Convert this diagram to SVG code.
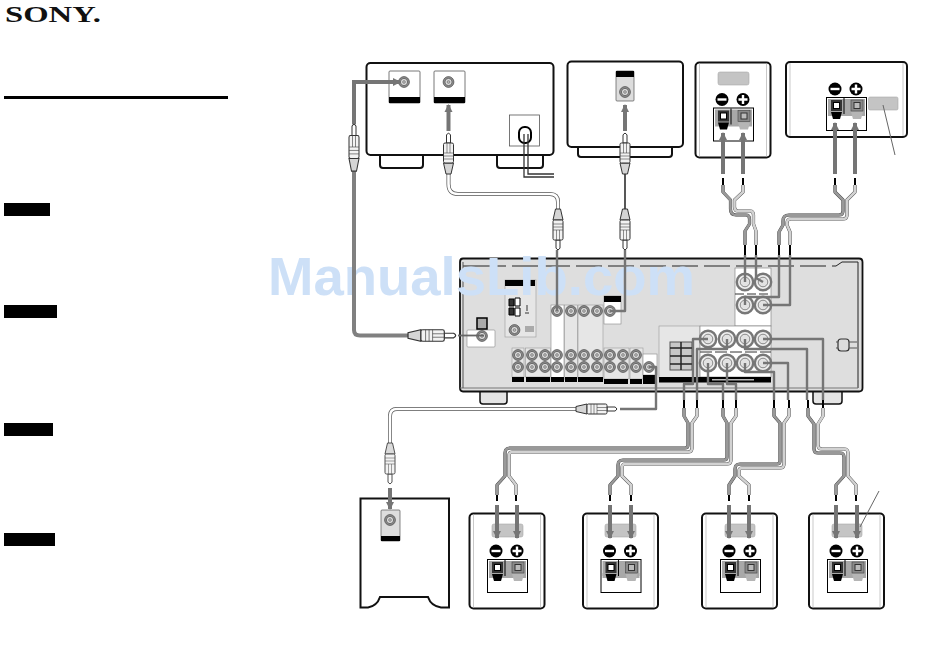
<svg xmlns="http://www.w3.org/2000/svg" xmlns:xlink="http://www.w3.org/1999/xlink" width="950" height="660" viewBox="0 0 950 660">
<style>
.box{fill:#fff;stroke:#111;stroke-width:2}
.thin{fill:#fff;stroke:#555;stroke-width:.8}
.blk{fill:#000}
.lab{fill:#c4c4c4;stroke:#aaa;stroke-width:.6}
.pnl{fill:#e6e6e6;stroke:#999;stroke-width:.6}
.wht{fill:#fff;stroke:#888;stroke-width:.6}
.arr{fill:none;stroke:#757575;stroke-width:4;marker-end:url(#ah)}
.gw{fill:none;stroke:#757575;stroke-width:2.4;stroke-linejoin:round}
.bw{fill:none;stroke:#111;stroke-width:1.4}
.tip{fill:none;stroke:#000;stroke-width:2}
.oc{fill:none;stroke:#333;stroke-width:3.2;stroke-linejoin:round}
.il{fill:none;stroke:#d2d2d2;stroke-width:2.6;stroke-linejoin:round}
.id{fill:none;stroke:#999;stroke-width:2.6;stroke-linejoin:round}
.co{fill:none;stroke:#555;stroke-width:4;stroke-linejoin:round}
.ci{fill:none;stroke:#fff;stroke-width:2.6;stroke-linejoin:round}
.cg{fill:none;stroke:#808080;stroke-width:4;stroke-linejoin:round}
</style>
<defs>
<marker id="ah" markerUnits="userSpaceOnUse" markerWidth="10" markerHeight="10" refX="7" refY="5" orient="auto"><path d="M0,1 L8,5 L0,9 Z" fill="#757575"/></marker>
<g id="j"><circle r="5.4" fill="#8f8f8f" stroke="#444" stroke-width=".7"/><circle r="3.6" fill="#ddd" stroke="#555" stroke-width=".8"/><circle r="1.4" fill="#bbb" stroke="#555" stroke-width=".5"/></g>
<g id="jl"><circle r="8.2" fill="#eee" stroke="#777" stroke-width="2.4"/><circle r="4.8" fill="#e2e2e2" stroke="#888" stroke-width="1"/></g>
<g id="plug"><path d="M-2,10 V2 Q0,-1.500 2,2 V10 Z" fill="#fff" stroke="#333"/><path d="M-5,30 H5 L2.500,41 H-2.500 Z" fill="#d5d5d5" stroke="#333"/><rect x="-5" y="10" width="10" height="20" rx="1.500" fill="#f2f2f2" stroke="#333"/><path d="M-5,20 H5 M-5,23 H5 M-5,26 H5 M-1.500,10 V20 M1.500,10 V20" stroke="#444" stroke-width=".6" fill="none"/></g>
<g id="term"><circle cx="9" cy="-8" r="6.5" fill="#000"/><rect x="4.5" y="-9.2" width="9" height="2.4" fill="#fff"/><circle cx="30" cy="-8" r="6.5" fill="#000"/><path d="M25.5,-8 H34.5 M30,-12.5 V-3.5" stroke="#fff" stroke-width="2.4"/><rect x=".5" y=".5" width="40" height="33" fill="#fff" stroke="#000"/><rect x="2" y="2" width="37" height="15" fill="#a8a8a8"/><rect x="2" y="14" width="37" height="5" fill="#a8a8a8"/><rect x="5" y="3" width="11" height="11" fill="#333"/><rect x="7.5" y="5.5" width="6" height="6" fill="#fff" stroke="#000"/><path d="M5,15 H16 L14,22 H7 Z" fill="#000"/><rect x="25" y="3" width="12" height="11" fill="#8a8a8a" stroke="#444" stroke-width=".6"/><rect x="28" y="5.5" width="6" height="6" fill="#bbb" stroke="#333"/><path d="M25,15 H37 L35,22 H27 Z" fill="#b5b5b5"/><path d="M18,1 V17" stroke="#000"/></g>
<g id="spk"><rect x="1" y="1" width="75" height="95" rx="4" class="box"/><path d="M5,2 V95 M72,2 V95" stroke="#bbb" stroke-width=".8"/></g>
</defs>

<rect width="950" height="660" fill="#fff"/>

<g id="sony-logo"><text x="5" y="22" font-family="'Liberation Serif',serif" font-weight="bold" font-size="23" textLength="96" lengthAdjust="spacingAndGlyphs" fill="#111">SONY.</text></g>
<g id="sidebar">
<rect x="4" y="96" width="224" height="3" class="blk"/>
<rect x="4" y="203" width="46" height="13" class="blk"/>
<rect x="4" y="305" width="53" height="13" class="blk"/>
<rect x="4" y="423" width="49" height="13" class="blk"/>
<rect x="4" y="533" width="51" height="13" class="blk"/>
</g>

<g id="source-1">
<path d="M380,155 V165 Q380,168 383,168 H420 Q423,168 423,165 V155 M497,155 V165 Q497,168 500,168 H540 Q543,168 543,165 V155" class="box"/>
<rect x="366.500" y="63" width="187" height="92" rx="4" class="box"/>
<rect x="389" y="71" width="31" height="32" rx="1" class="thin"/><rect x="389" y="97" width="31" height="6" class="blk"/><use href="#j" x="404" y="82"/>
<rect x="434" y="71" width="31" height="32" rx="1" class="thin"/><rect x="434" y="97" width="31" height="6" class="blk"/><use href="#j" x="448.500" y="82"/>
<rect x="509.500" y="115" width="30" height="31" class="thin"/>
<rect x="519" y="127" width="12" height="16" rx="5.500" fill="#fff" stroke="#000" stroke-width="2"/>
<path d="M524,134 V177 H554 M528,134 V174 H554" fill="none" stroke="#333" stroke-width="1.300"/>
</g>

<g id="source-2">
<path d="M578,147 V154 Q578,157 581,157 H669 Q672,157 672,154 V147" class="box"/>
<rect x="567.500" y="61.500" width="115.500" height="85.500" rx="4" class="box"/>
<rect x="616" y="71" width="18" height="30" rx="1" fill="#ddd" stroke="#555" stroke-width=".7"/><rect x="616" y="71" width="18" height="6" class="blk"/><use href="#j" x="625" y="92"/>
</g>

<g id="speaker-a">
<use href="#spk" x="694.500" y="61.500"/>
<rect x="718" y="72" width="31" height="13" rx="2" class="lab"/>
<use href="#term" x="713" y="107.500"/>
</g>
<g id="speaker-b">
<rect x="786" y="62" width="121" height="75" rx="4" class="box"/>
<path d="M790,63 V136 M903,63 V136" stroke="#bbb" stroke-width=".8"/>
<use href="#term" x="826" y="97"/>
<rect x="868.500" y="97" width="29.500" height="13" rx="1.500" class="lab"/>
<path d="M883,105 L895,155" stroke="#666" fill="none"/>
</g>

<g id="receiver">
<path d="M480,392 V401 Q480,404 483,404 H504 Q507,404 507,401 V392 M813,392 V401 Q813,404 816,404 H839 Q842,404 842,401 V392" fill="#e4e4e4" stroke="#111" stroke-width="1.500"/>
<path d="M463,258.500 H859 Q862.500,258.500 862.500,262 V388 Q862.500,391.500 859,391.500 H463 Q460,391.500 460,388 V262 Q460,258.500 463,258.500 Z" fill="#dedede" stroke="#111" stroke-width="1.800"/>
<path d="M463,266 H480 M836,266 L842,262 H858 V388" fill="none" stroke="#222"/>
<path d="M460,388 H858" stroke="#777"/>
<path d="M463,262 V388" stroke="#555"/>
<path d="M480,266 H836" stroke="#222" stroke-dasharray="26 6"/>
<rect x="467" y="330" width="28" height="17" rx="1" class="wht"/>
<rect x="477" y="318" width="10" height="11" fill="#aaa" stroke="#000" stroke-width="1.500"/>
<use href="#j" x="482" y="336"/>
<rect x="505" y="280" width="31" height="57" class="pnl"/><rect x="505" y="280" width="30" height="6" class="blk"/>
<path d="M509,299 H514 V306 H509 Z M509,308 H514 V315 H509 Z" fill="#333" stroke="#000"/>
<path d="M515,298 H520 V306 H515 Z M515,308 H520 V316 H515 Z" fill="#fff" stroke="#000"/>
<path d="M527,305 V311 M525,313 H529" stroke="#333" fill="none"/>
<use href="#j" x="514.500" y="330"/>
<rect x="525" y="326" width="9" height="6" fill="#aaa"/>
<rect x="551" y="305" width="13" height="75" class="wht"/>
<rect x="564.500" y="305" width="13" height="74" class="pnl"/>
<rect x="578" y="305" width="25" height="74" class="pnl"/>
<rect x="604" y="296" width="17" height="28" class="wht"/><rect x="604" y="296" width="17" height="6" class="blk"/>
<rect x="512" y="348" width="12" height="29" class="pnl"/>
<rect x="525.500" y="348" width="25" height="29" class="pnl"/>
<rect x="604" y="348" width="25" height="31" class="pnl"/>
<rect x="630" y="348" width="13" height="31" class="pnl"/>
<rect x="643" y="354" width="14" height="21" class="wht"/>
<path d="M512,377 H524 V382 H512 Z M526,377 H550 V382 H526 Z M551,377 H564 V382 H551 Z M565,377 H577 V382 H565 Z M578,377 H603 V382 H578 Z M604,379 H628 V384 H604 Z M630,379 H642 V384 H630 Z M643,375 H657 V384 H643 Z" class="blk"/>
<g>
<use href="#j" x="557" y="311"/><use href="#j" x="571" y="311"/><use href="#j" x="584" y="311"/><use href="#j" x="597" y="311"/><use href="#j" x="610" y="311"/>
<use href="#j" x="518" y="355"/><use href="#j" x="532" y="355"/><use href="#j" x="545" y="355"/><use href="#j" x="557" y="355"/><use href="#j" x="571" y="355"/><use href="#j" x="584" y="355"/><use href="#j" x="597" y="355"/><use href="#j" x="610" y="355"/><use href="#j" x="623" y="355"/><use href="#j" x="636" y="355"/>
<use href="#j" x="518" y="367"/><use href="#j" x="532" y="367"/><use href="#j" x="545" y="367"/><use href="#j" x="557" y="367"/><use href="#j" x="571" y="367"/><use href="#j" x="584" y="367"/><use href="#j" x="597" y="367"/><use href="#j" x="610" y="367"/><use href="#j" x="623" y="367"/><use href="#j" x="636" y="367"/><use href="#j" x="649" y="367"/>
</g>
<rect x="735" y="268" width="36" height="58" fill="#fff" stroke="#777" stroke-width=".6"/>
<path d="M735,294 H771" stroke="#333" stroke-dasharray="9 3"/>
<rect x="659" y="326" width="41" height="52" class="pnl"/>
<rect x="670" y="342" width="22" height="28" fill="#c8c8c8" stroke="#555"/>
<path d="M670,348 H692 M670,356 H692 M670,364 H692 M681,342 V370" stroke="#222" stroke-width="1.500"/>
<rect x="700" y="326" width="71" height="51" fill="#fff" stroke="#777" stroke-width=".6"/>
<path d="M700,352 H771" stroke="#333" stroke-dasharray="12 3"/>
<rect x="659" y="377" width="112" height="5.500" class="blk"/>
<rect x="712" y="379" width="42" height="1.500" fill="#bbb"/>
<use href="#jl" x="745" y="282"/><use href="#jl" x="763" y="282"/><use href="#jl" x="745" y="305"/><use href="#jl" x="763" y="305"/>
<use href="#jl" x="708" y="339"/><use href="#jl" x="727" y="339"/><use href="#jl" x="745" y="339"/><use href="#jl" x="763" y="339"/>
<use href="#jl" x="708" y="363"/><use href="#jl" x="727" y="363"/><use href="#jl" x="745" y="363"/><use href="#jl" x="763" y="363"/>
<g id="ac-inlet"><rect x="838" y="339" width="11" height="12" rx="3" fill="#ddd" stroke="#333" stroke-width="1.200"/><path d="M836,342 H838 M836,348 H838 M849,342 H857 M849,348 H857" stroke="#555"/></g>
</g>

<text id="watermark" x="268" y="295" font-family="'Liberation Sans',Arial,sans-serif" font-weight="bold" font-size="54.500" textLength="427" lengthAdjust="spacingAndGlyphs" fill="#cde0f7">ManualsLib.com</text>

<g id="subwoofer">
<path d="M360.500,498.500 H449 V607.500 H441 Q431,606 428,597 H380 Q377,606 368,607.500 H360.500 Z" class="box"/>
<rect x="381" y="510" width="19" height="31" rx="1" fill="#ddd" stroke="#555" stroke-width=".7"/><rect x="381" y="536" width="19" height="5" class="blk"/><use href="#j" x="390" y="520"/>
</g>

<g id="speaker-c"><use href="#spk" x="468.500" y="512.500"/><rect x="492" y="524" width="31" height="13" rx="2" class="lab"/><use href="#term" x="487" y="559"/></g>
<g id="speaker-d"><use href="#spk" x="582" y="512.500"/><rect x="605" y="524" width="31" height="13" rx="2" class="lab"/><use href="#term" x="600.500" y="559"/></g>
<g id="speaker-e"><use href="#spk" x="701" y="512.500"/><rect x="725" y="524" width="30" height="13" rx="2" class="lab"/><use href="#term" x="720" y="559"/></g>
<g id="speaker-f"><use href="#spk" x="808" y="512.500"/><rect x="832" y="524" width="30" height="13" rx="2" class="lab"/><use href="#term" x="827" y="559"/><path d="M860,527 L879,491" stroke="#666" fill="none"/></g>

<g id="connectors">
<path class="arr" d="M354,124 V82 H400"/>
<path class="cg" d="M354,170 V330 Q354,335.500 360,335.500 H410"/>
<path d="M458,335.500 H484" stroke="#666" stroke-width="1.800" fill="none"/>
<use href="#plug" transform="translate(354,124) scale(1,1.150)"/>
<use href="#plug" transform="translate(456,335.500) rotate(90) scale(1.150,1.170)"/>
<path class="co" d="M448.500,174 V184 Q448.500,194 458,194 H550 Q558,194 558,202 V210"/>
<path class="ci" d="M448.500,174 V184 Q448.500,194 458,194 H550 Q558,194 558,202 V210"/>
<use href="#plug" transform="translate(448.500,133)"/>
<use href="#plug" transform="translate(558,250) rotate(180)"/>
<path class="arr" d="M448.500,131 V105"/>
<path class="gw" d="M557,250 V311"/>
<path class="bw" d="M625,174 V210"/>
<use href="#plug" transform="translate(625,133)"/>
<use href="#plug" transform="translate(625,250) rotate(180)"/>
<path class="arr" d="M625,131 V105"/>
<path class="gw" d="M625,250 V311 H610"/>

<path class="co" d="M390,443 V416 Q390,409 397,409 H578"/>
<path class="ci" d="M390,443 V416 Q390,409 397,409 H578"/>
<use href="#plug" transform="translate(390,484) rotate(180)" opacity=".85"/>
<use href="#plug" transform="translate(617,409) rotate(90)"/>
<path class="arr" d="M390,488 V509"/>
<path class="gw" d="M620,409 H656 V367 H649"/>

<g id="wires-front">
<path class="gw" d="M745,255 V282 M756,255 V278 L763,282 M779,255 V297 H745 V305 M790,255 V305 H763"/>
<path class="gw" d="M763,339 H823 V400 M745,339 V349 H807 V400 M763,363 H788 V400 M745,363 V372 H774 V400 M727,363 V384 H736 V400 M708,363 V384 H723 V400 M708,339 H693 V384 H684 V400 M727,339 V349 H697 V400"/>
</g>

<g id="pair-a"><path class="oc" d="M723,185 V192 L730.500,200 V209 Q730.500,215 736,215 H746 Q749.500,215 749.500,219 V224 L745,231 V245"/><path class="id" d="M723,185 V192 L730.500,200 V209 Q730.500,215 736,215 H746 Q749.500,215 749.500,219 V224 L745,231 V245"/><path class="oc" d="M743,185 V192 L734.500,200 V207 Q734.500,211 738,211 H750 Q753.500,211 753.500,215 V224 L756,231 V245"/><path class="il" d="M743,185 V192 L734.500,200 V207 Q734.500,211 738,211 H750 Q753.500,211 753.500,215 V224 L756,231 V245"/></g>
<g id="pair-b"><path class="oc" d="M835,185 V192 L843,200 V211 Q843,215 839,215 H789 Q783,215 783,221 V225 L779,232 V245"/><path class="id" d="M835,185 V192 L843,200 V211 Q843,215 839,215 H789 Q783,215 783,221 V225 L779,232 V245"/><path class="oc" d="M855,185 V192 L847,200 V215 Q847,219 843,219 H791 Q787,219 787,223 V225 L790,232 V245"/><path class="il" d="M855,185 V192 L847,200 V215 Q847,219 843,219 H791 Q787,219 787,223 V225 L790,232 V245"/></g>
<g id="pair-c"><path class="oc" d="M684,408 V416 L688,423 V445 Q688,448 685,448 H510 Q505,448 505,453 V476 L497,485 V495"/><path class="id" d="M684,408 V416 L688,423 V445 Q688,448 685,448 H510 Q505,448 505,453 V476 L497,485 V495"/><path class="oc" d="M697,408 V416 L692,423 V448 Q692,452 688,452 H512 Q509,452 509,456 V476 L516,485 V495"/><path class="il" d="M697,408 V416 L692,423 V448 Q692,452 688,452 H512 Q509,452 509,456 V476 L516,485 V495"/></g>
<g id="pair-d"><path class="oc" d="M723,408 V416 L727,423 V457 Q727,460 724,460 H623 Q618,460 618,465 V476 L610,485 V495"/><path class="id" d="M723,408 V416 L727,423 V457 Q727,460 724,460 H623 Q618,460 618,465 V476 L610,485 V495"/><path class="oc" d="M736,408 V416 L731,423 V460 Q731,464 727,464 H625 Q622,464 622,468 V476 L631,485 V495"/><path class="il" d="M736,408 V416 L731,423 V460 Q731,464 727,464 H625 Q622,464 622,468 V476 L631,485 V495"/></g>
<g id="pair-e"><path class="oc" d="M774,408 V416 L780,423 V461 Q780,464 777,464 H740 Q735,464 735,469 V476 L729,485 V495"/><path class="id" d="M774,408 V416 L780,423 V461 Q780,464 777,464 H740 Q735,464 735,469 V476 L729,485 V495"/><path class="oc" d="M789,408 V416 L784,423 V464 Q784,468 780,468 H742 Q739,468 739,471 V476 L749,485 V495"/><path class="il" d="M789,408 V416 L784,423 V464 Q784,468 780,468 H742 Q739,468 739,471 V476 L749,485 V495"/></g>
<g id="pair-f"><path class="oc" d="M808,408 V416 L814,424 V449 Q814,453 818,453 H840 Q844,453 844,457 V476 L836,485 V495"/><path class="id" d="M808,408 V416 L814,424 V449 Q814,453 818,453 H840 Q844,453 844,457 V476 L836,485 V495"/><path class="oc" d="M823,408 V416 L818,424 V445 Q818,449 822,449 H844 Q848,449 848,453 V476 L856,485 V495"/><path class="il" d="M823,408 V416 L818,424 V445 Q818,449 822,449 H844 Q848,449 848,453 V476 L856,485 V495"/></g>

<path class="tip" d="M723,178 V185 M743,178 V185 M835,178 V185 M855,178 V185 M745,245 V255 M756,245 V255 M779,245 V255 M790,245 V255 M684,400 V408 M697,400 V408 M723,400 V408 M736,400 V408 M774,400 V408 M789,400 V408 M808,400 V408 M823,400 V408 M497,495 V501 M516,495 V501 M610,495 V501 M631,495 V501 M729,495 V501 M749,495 V501 M836,495 V501 M856,495 V501"/>

<path class="arr" d="M723,174 V133"/><path class="arr" d="M743,174 V133"/>
<path class="arr" d="M835,174 V123"/><path class="arr" d="M855,174 V123"/>
<path class="arr" d="M497,505 V538"/><path class="arr" d="M517,505 V538"/>
<path class="arr" d="M610,505 V538"/><path class="arr" d="M631,505 V538"/>
<path class="arr" d="M729,505 V538"/><path class="arr" d="M749,505 V538"/>
<path class="arr" d="M836,505 V538"/><path class="arr" d="M857,505 V538"/>
</g>
</svg>
